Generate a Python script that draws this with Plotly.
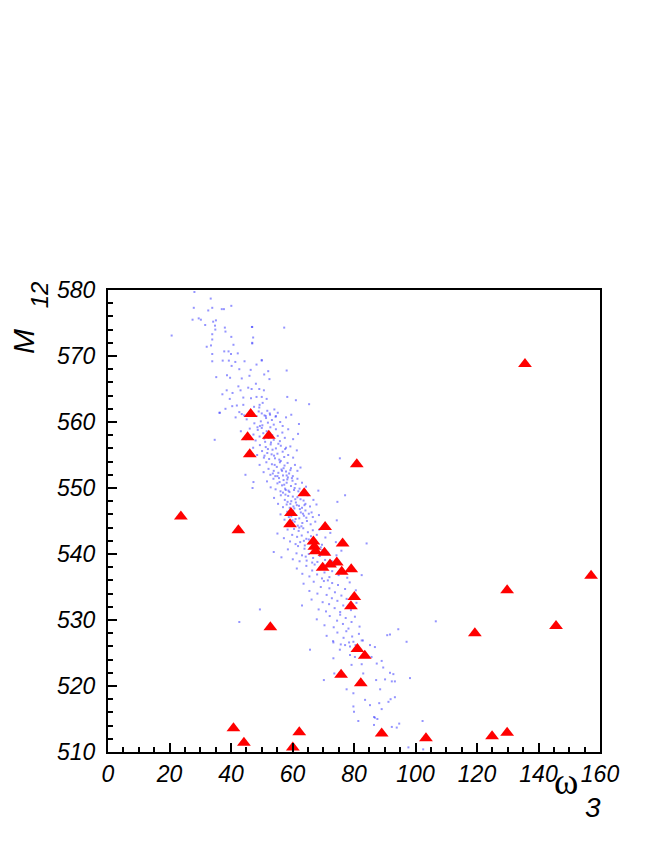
import plotly.graph_objects as go

# ---------------- data ----------------
# red triangles (omega_3, M_12)
tri_w3 = [23.7, 42.4, 46.4, 45.4, 46.1, 52.3, 52.8, 40.8, 44.2, 60.1,
          62.2, 63.8, 59.5, 59.2, 70.6, 66.8, 67.1, 67.5, 70.4, 76.3,
          69.8, 72.2, 74.4, 76.0, 79.1, 80.1, 79.0, 81.1, 83.5, 75.8,
          82.2, 89.0, 103.4, 80.9, 135.6, 157.1, 129.8, 119.3, 145.7, 124.9,
          129.8]
tri_m12 = [545.7, 543.6, 561.2, 557.7, 555.1, 557.9, 528.9, 513.6, 511.4, 510.7,
           513.0, 549.2, 546.2, 544.5, 544.1, 541.9, 541.1, 540.4, 540.2, 541.6,
           537.9, 538.4, 538.7, 537.3, 537.7, 533.5, 532.1, 525.6, 524.6, 521.7,
           520.4, 512.8, 512.1, 553.6, 568.8, 536.7, 534.5, 528.0, 529.1, 512.4,
           512.9]

# blue scatter cloud, upper part (omega_3, M_12)
cloud_upper = [
    (28.1, 579.7), (33.4, 578.7), (27.9, 577.3), (33.9, 577.3), (40.1, 577.6), (37.0, 577.1),
    (37.7, 577.1), (32.6, 576.9), (29.5, 575.7), (27.5, 575.5), (30.2, 575.5), (35.1, 575.4),
    (34.2, 575.2), (31.6, 574.7), (34.8, 574.6), (34.9, 574.0), (38.0, 574.3), (38.2, 573.7),
    (46.9, 574.4), (57.3, 574.3), (20.7, 573.1), (33.9, 573.3), (33.9, 572.5), (40.1, 572.9),
    (47.2, 572.8), (46.9, 571.9), (33.5, 571.6), (32.1, 571.4), (40.8, 571.7), (37.8, 570.7),
    (39.2, 570.7), (40.0, 570.3), (42.2, 570.4), (33.9, 570.3), (46.8, 574.4), (46.9, 572.0),
    (50.0, 569.4), (37.3, 569.3), (39.3, 569.3), (41.4, 569.1), (44.4, 569.2), (50.0, 569.3),
    (33.9, 569.2), (40.2, 568.5), (42.7, 568.0), (46.4, 567.9), (48.3, 568.7), (52.1, 567.7),
    (58.1, 567.8), (38.7, 567.1), (39.7, 566.7), (43.5, 566.6), (46.0, 567.0), (50.8, 567.2),
    (52.5, 566.5), (35.2, 566.8), (48.1, 565.8), (42.4, 565.4), (43.1, 564.8), (45.6, 565.2),
    (46.7, 565.0), (49.2, 565.0), (50.7, 564.8), (38.6, 564.8), (40.5, 564.4), (44.0, 563.7),
    (46.5, 563.6), (48.3, 563.8), (50.0, 563.8), (51.6, 563.5), (37.2, 564.2), (39.6, 563.5),
    (58.3, 563.8), (61.1, 563.3), (65.4, 562.7), (41.9, 562.5), (44.0, 562.6), (47.5, 562.3),
    (49.3, 562.6), (50.3, 562.9), (38.2, 562.0), (40.4, 562.4), (36.4, 561.4), (42.7, 561.5),
    (49.2, 562.2), (50.0, 561.3), (51.3, 560.9), (52.7, 561.1), (54.6, 560.9), (44.3, 561.0),
    (41.5, 560.7), (36.2, 561.4), (34.7, 557.3),
]

# blue scatter cloud, dense core
cloud_core = [
    (43.5, 561.2), (45.1, 560.4), (46.8, 561.5), (47.6, 559.8), (48.3, 560.9), (49.0, 561.6),
    (49.7, 560.1), (50.2, 559.5), (50.9, 561.0), (51.4, 560.6), (52.0, 559.9), (52.6, 561.3),
    (53.3, 560.3), (53.9, 559.6), (54.5, 560.8), (55.2, 561.4), (56.0, 560.0), (56.8, 559.4),
    (57.9, 560.7), (59.6, 561.1), (62.1, 559.7), (51.8, 561.7), (49.4, 559.4), (54.1, 561.9),
    (43.2, 558.6), (44.9, 557.4), (46.1, 559.0), (47.3, 558.1), (48.0, 557.2), (48.7, 558.8),
    (49.3, 557.8), (50.0, 559.1), (50.5, 558.3), (51.1, 557.0), (51.6, 558.6), (52.2, 557.6),
    (52.8, 559.2), (53.4, 558.0), (53.9, 557.3), (54.6, 558.9), (55.2, 557.9), (55.9, 557.1),
    (56.7, 558.4), (57.5, 557.6), (58.6, 558.9), (60.2, 557.4), (61.8, 558.2), (50.8, 557.5),
    (53.0, 556.9), (48.6, 559.2),
    (47.2, 556.1), (48.5, 555.0), (49.4, 556.5), (50.1, 555.6), (50.7, 554.6), (51.3, 556.2),
    (51.8, 555.3), (52.4, 554.4), (52.9, 556.6), (53.5, 555.8), (54.0, 554.9), (54.6, 556.0),
    (55.1, 555.2), (55.7, 554.3), (56.2, 556.4), (56.8, 555.5), (57.3, 554.7), (57.9, 556.1),
    (58.6, 555.0), (59.3, 556.3), (60.2, 554.6), (61.4, 555.7), (53.2, 555.1), (55.4, 556.7),
    (50.9, 554.9), (57.6, 555.9), (54.3, 554.5), (52.0, 555.9),
    (49.3, 553.5), (50.6, 552.4), (51.5, 553.9), (52.2, 552.9), (52.8, 552.0), (53.3, 553.6),
    (53.9, 552.6), (54.4, 551.8), (54.9, 553.2), (55.4, 552.3), (55.9, 553.9), (56.4, 552.8),
    (56.9, 551.9), (57.4, 553.4), (57.9, 552.5), (58.4, 553.8), (58.9, 552.2), (59.5, 553.0),
    (60.1, 551.8), (60.8, 553.5), (61.6, 552.6), (62.6, 553.1), (55.1, 551.8), (56.2, 554.1),
    (57.1, 553.0), (58.1, 551.9), (54.2, 553.5), (59.3, 552.7), (53.6, 552.2), (56.6, 552.6),
    (44.7, 552.0), (47.3, 550.9), (47.0, 550.0), (75.4, 554.5),
    (51.7, 551.0), (52.9, 550.1), (53.8, 551.4), (54.5, 549.8), (55.1, 550.7), (55.6, 551.5),
    (56.1, 549.5), (56.6, 550.4), (57.1, 551.2), (57.6, 549.9), (58.1, 550.8), (58.5, 551.6),
    (59.0, 549.4), (59.5, 550.3), (60.0, 551.1), (60.5, 549.7), (61.0, 550.6), (61.6, 551.4),
    (62.3, 549.9), (63.1, 550.8), (64.4, 550.2), (57.3, 550.5), (58.7, 549.6), (59.8, 551.5),
    (56.9, 549.3), (60.7, 550.0), (55.8, 550.9), (58.3, 551.3), (61.9, 549.5), (57.8, 549.7),
    (54.0, 548.5), (55.3, 547.6), (56.2, 548.9), (56.9, 547.1), (57.5, 548.2), (58.1, 547.5),
    (58.6, 548.8), (59.1, 547.0), (59.6, 548.0), (60.1, 548.7), (60.6, 546.9), (61.1, 547.8),
    (61.6, 548.6), (62.1, 547.3), (62.6, 548.3), (63.1, 547.0), (63.6, 548.1), (64.2, 547.6),
    (64.9, 548.9), (65.7, 547.2), (66.8, 548.2), (67.8, 547.5), (59.3, 547.6), (60.9, 548.3),
    (62.4, 546.8), (58.4, 547.9), (61.4, 547.4), (63.9, 547.4), (57.7, 549.0), (60.3, 547.2),
    (77.1, 548.9), (74.6, 547.9), (68.4, 549.6),
    (56.1, 546.0), (57.4, 545.2), (58.3, 546.4), (59.0, 544.6), (59.6, 545.7), (60.2, 546.5),
    (60.7, 544.9), (61.2, 545.9), (61.7, 544.3), (62.2, 545.4), (62.7, 546.3), (63.2, 544.7),
    (63.7, 545.8), (64.2, 546.6), (64.7, 545.0), (65.3, 546.1), (65.9, 544.5), (66.6, 545.6),
    (67.4, 544.9), (68.6, 545.9), (74.4, 545.1), (61.0, 545.3), (62.9, 544.2), (64.5, 545.5),
    (60.0, 545.1), (63.4, 546.1), (58.8, 545.6), (66.2, 546.3),
    (55.1, 543.1), (57.2, 542.4), (58.4, 543.7), (59.2, 541.9), (59.9, 542.9), (60.5, 543.8),
    (61.0, 541.5), (61.5, 542.6), (62.0, 543.5), (62.5, 541.8), (63.0, 542.8), (63.5, 543.9),
    (64.0, 541.3), (64.5, 542.3), (65.0, 543.3), (65.5, 541.6), (66.0, 542.7), (66.6, 543.6),
    (67.2, 541.9), (67.9, 542.9), (68.7, 543.7), (69.6, 541.4), (70.7, 542.5), (72.3, 543.2),
    (74.1, 541.8), (62.2, 544.0), (63.7, 542.0), (65.3, 542.2), (61.8, 541.2), (84.1, 541.6),
    (53.9, 540.3), (56.4, 539.5), (58.5, 540.7), (60.1, 539.2), (61.3, 540.1), (62.3, 538.9),
    (63.1, 539.8), (63.9, 540.8), (64.6, 539.0), (65.3, 540.0), (66.0, 540.9), (66.7, 539.4),
    (67.4, 540.4), (68.1, 538.8), (68.9, 539.7), (69.7, 540.6), (70.6, 539.1), (71.6, 540.2),
    (72.8, 538.9), (74.3, 539.8), (75.9, 540.5), (66.4, 538.7), (64.3, 539.6), (69.2, 541.0),
]

# blue scatter cloud, lower tail
cloud_lower = [
    (61.4, 537.8), (63.2, 537.0), (64.5, 538.2), (65.5, 536.6), (66.4, 537.5), (67.2, 538.4),
    (68.0, 536.9), (68.8, 537.7), (69.6, 536.3), (70.4, 537.2), (71.2, 538.1), (72.0, 536.5),
    (72.9, 537.4), (73.9, 538.3), (75.0, 536.8), (76.3, 537.6), (77.8, 536.4), (79.6, 537.9),
    (82.5, 536.8), (70.0, 538.5),
    (63.6, 535.5), (65.5, 534.4), (66.9, 535.8), (68.1, 534.0), (69.2, 535.0), (70.2, 535.9),
    (71.1, 533.8), (72.0, 534.8), (72.9, 535.6), (73.8, 534.2), (74.8, 535.3), (75.9, 533.7),
    (77.1, 534.7), (78.6, 535.7), (80.6, 534.5), (71.5, 536.0),
    (63.1, 532.2), (66.2, 533.1), (68.5, 531.6), (69.8, 532.7), (70.9, 531.3), (71.9, 532.4),
    (72.8, 533.3), (73.7, 531.8), (74.6, 532.9), (75.5, 531.2), (76.5, 532.2), (77.6, 533.2),
    (79.0, 531.5), (80.8, 532.6),
    (67.9, 530.1), (70.4, 529.2), (72.1, 530.6), (73.4, 528.9), (74.5, 529.9), (75.5, 530.8),
    (76.4, 529.4), (77.3, 530.3), (78.2, 528.7), (79.2, 529.7), (80.3, 530.5), (81.8, 529.0),
    (94.4, 528.6), (42.7, 529.7), (49.4, 531.6), (106.6, 529.8),
    (71.1, 527.6), (73.2, 526.8), (74.6, 528.1), (75.7, 526.3), (76.6, 527.3), (77.5, 528.3),
    (78.4, 526.6), (79.4, 527.5), (80.5, 526.2), (81.6, 527.9), (82.9, 526.9), (90.8, 527.7),
    (91.7, 527.8),
    (73.3, 526.6), (77.1, 526.2), (78.7, 526.0), (79.8, 526.7), (82.5, 526.9), (85.2, 526.2),
    (86.8, 525.9), (97.1, 526.7), (65.7, 525.5), (75.4, 525.5), (78.7, 524.7), (80.3, 524.4),
    (83.0, 524.7), (85.7, 524.4), (89.0, 523.8), (73.3, 524.2), (87.4, 523.4), (79.2, 523.2),
    (82.5, 523.3), (89.5, 522.8), (91.7, 522.0), (92.8, 521.8), (73.6, 521.9), (83.0, 521.9),
    (87.2, 520.9), (90.1, 521.0), (92.3, 520.7), (93.3, 520.7), (98.2, 521.2), (70.2, 520.9),
    (77.6, 519.5), (79.8, 518.9), (88.5, 519.5), (93.3, 518.3), (83.6, 517.9), (88.2, 517.4),
    (91.2, 517.6), (91.9, 518.0), (85.2, 517.1), (79.8, 516.9), (89.0, 516.5), (80.0, 516.1),
    (86.5, 515.3), (87.6, 515.0), (81.4, 514.7), (94.7, 514.3), (92.3, 513.8), (102.3, 514.7),
    (86.5, 514.1), (93.9, 513.7), (97.7, 510.7), (102.5, 510.4), (86.8, 515.2),
]

x_range = [0, 160]
y_range = [510, 580]
x_ticks = [0, 20, 40, 60, 80, 100, 120, 140, 160]
y_ticks = [510, 520, 530, 540, 550, 560, 570, 580]

# ---------------- figure ----------------
cloud = cloud_upper + cloud_core + cloud_lower
cloud_w3 = [p[0] for p in cloud]
cloud_m12 = [p[1] for p in cloud]

fig = go.Figure()
fig.add_trace(go.Scatter(
    x=cloud_w3, y=cloud_m12, mode="markers",
    marker=dict(symbol="square", size=2, color="rgba(60,60,255,0.55)", line=dict(width=0)),
    hoverinfo="skip", showlegend=False,
))
fig.add_trace(go.Scatter(
    x=tri_w3, y=tri_m12, mode="markers",
    marker=dict(symbol="triangle-up", size=12, color="#ff0000", line=dict(width=0)),
    showlegend=False,
))

sans = "Liberation Sans, Arial, Helvetica, sans-serif"
tick_font = dict(family=sans, size=23, color="black", style="italic")

fig.update_xaxes(
    range=x_range, tickvals=x_ticks, ticktext=[str(v) for v in x_ticks],
    ticks="inside", ticklen=9, tickwidth=2, tickcolor="black",
    minor=dict(ticks="inside", ticklen=5, tickwidth=1.5, tickcolor="black", dtick=5, showgrid=False),
    showline=True, linecolor="black", linewidth=2, mirror=True,
    showgrid=False, zeroline=False, tickfont=tick_font,
)
fig.update_yaxes(
    range=y_range, tickvals=y_ticks, ticktext=[str(v) for v in y_ticks],
    ticks="inside", ticklen=9, tickwidth=2, tickcolor="black",
    minor=dict(ticks="inside", ticklen=5, tickwidth=1.5, tickcolor="black", dtick=2, showgrid=False),
    showline=True, linecolor="black", linewidth=2, mirror=True,
    showgrid=False, zeroline=False, tickfont=tick_font, ticklabelstandoff=6,
)

# page body adds an 8px margin, so the figure is 16px smaller than the window
fig.update_layout(
    width=648, height=844,
    margin=dict(l=100, r=56, t=282, b=100, pad=0),
    paper_bgcolor="white", plot_bgcolor="white",
    showlegend=False,
    annotations=[
        # y-axis title: M with subscript 12 (rotated, at the top of the axis)
        dict(text="M", xref="paper", yref="paper",
             x=-0.172, y=0.888, xanchor="center", yanchor="middle",
             textangle=-90, showarrow=False, borderpad=0,
             font=dict(family=sans, size=30, color="black", style="italic")),
        dict(text="12", xref="paper", yref="paper",
             x=-0.139, y=0.99, xanchor="center", yanchor="middle",
             textangle=-90, showarrow=False, borderpad=0,
             font=dict(family=sans, size=24, color="black", style="italic")),
        # x-axis title: omega with subscript 3
        dict(text="ω", xref="paper", yref="paper",
             x=0.930, y=-0.064, xanchor="center", yanchor="middle", showarrow=False,
             font=dict(family="Liberation Serif, Times New Roman, serif", size=37, color="black")),
        dict(text="3", xref="paper", yref="paper",
             x=0.985, y=-0.120, xanchor="center", yanchor="middle", showarrow=False,
             font=dict(family=sans, size=28, color="black", style="italic")),
    ],
)

fig.write_html("out.html")
